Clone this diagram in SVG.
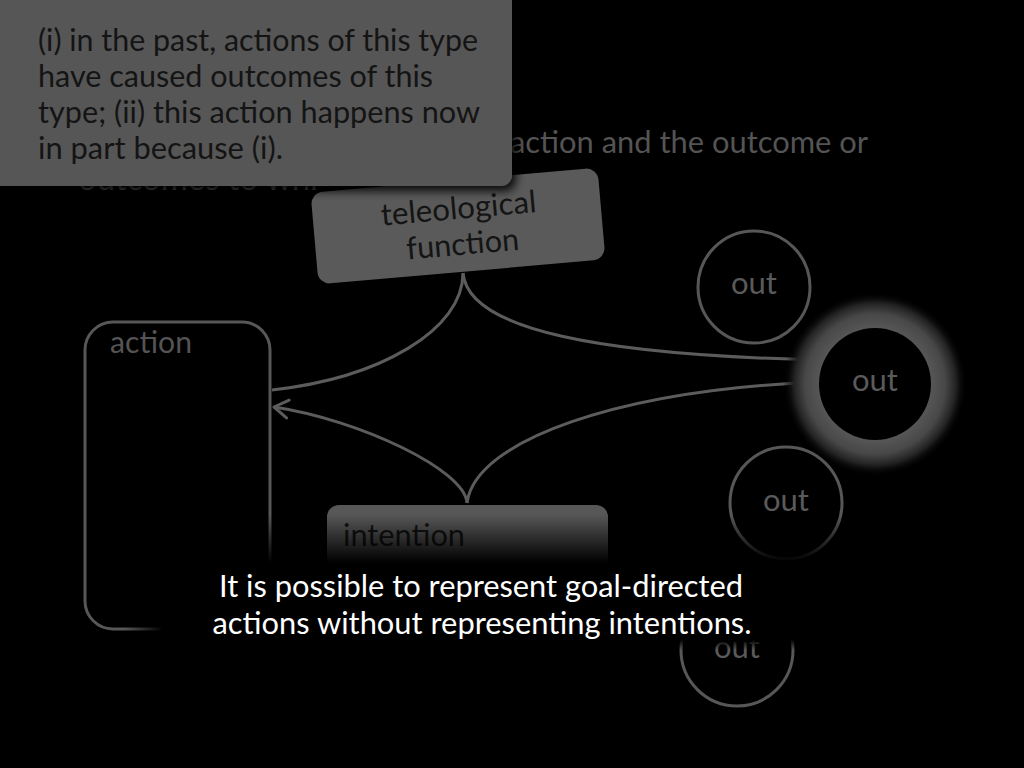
<svg xmlns="http://www.w3.org/2000/svg" width="1024" height="768" viewBox="0 0 1024 768">
  <defs>
    <style>
      text { font-family: Lato, "Open Sans", "Liberation Sans", sans-serif; }
      .dim { fill: #545454; font-size: 31px; }
      .dark { fill: #141414; font-size: 31px; }
      .cap { fill: #ffffff; font-size: 30px; text-anchor: middle; }
      .outl { fill: #5a5a5a; font-size: 31px; text-anchor: middle; }
      .ring { fill: none; stroke: #575757; stroke-width: 3; }
      .conn { fill: none; stroke: #5c5c5c; stroke-width: 3; }
    </style>
    <filter id="shadow" x="-10%" y="-10%" width="130%" height="140%">
      <feDropShadow dx="4" dy="5" stdDeviation="5" flood-color="#000" flood-opacity="0.9"/>
    </filter>
    <radialGradient id="glow" cx="875" cy="384" r="92" gradientUnits="userSpaceOnUse">
      <stop offset="0" stop-color="#555"/>
      <stop offset="0.62" stop-color="#555"/>
      <stop offset="0.76" stop-color="#484848"/>
      <stop offset="0.88" stop-color="#222"/>
      <stop offset="1" stop-color="#000" stop-opacity="0"/>
    </radialGradient>
    <linearGradient id="vfade" x1="0" y1="515" x2="0" y2="660" gradientUnits="userSpaceOnUse">
      <stop offset="0" stop-color="#fff" stop-opacity="0"/>
      <stop offset="0.33" stop-color="#fff" stop-opacity="1"/>
      <stop offset="0.86" stop-color="#fff" stop-opacity="1"/>
      <stop offset="0.93" stop-color="#fff" stop-opacity="0"/>
    </linearGradient>
    <linearGradient id="hfade" x1="125" y1="0" x2="880" y2="0" gradientUnits="userSpaceOnUse">
      <stop offset="0" stop-color="#fff" stop-opacity="0"/>
      <stop offset="0.05" stop-color="#fff" stop-opacity="1"/>
      <stop offset="0.97" stop-color="#fff" stop-opacity="1"/>
      <stop offset="1" stop-color="#fff" stop-opacity="0"/>
    </linearGradient>
    <mask id="mv" maskUnits="userSpaceOnUse" x="0" y="0" width="1024" height="768">
      <rect x="0" y="515" width="1024" height="150" fill="url(#vfade)"/>
    </mask>
    <mask id="mh" maskUnits="userSpaceOnUse" x="0" y="0" width="1024" height="768">
      <rect x="120" y="0" width="770" height="768" fill="url(#hfade)"/>
    </mask>
    <marker id="arrow" viewBox="-17 -11 20 22" markerWidth="20" markerHeight="22" refX="0" refY="0" orient="auto" markerUnits="userSpaceOnUse">
      <path d="M-14,-9 L0,0 L-14,9" fill="none" stroke="#5c5c5c" stroke-width="3" stroke-linecap="round" stroke-linejoin="round"/>
    </marker>
  </defs>

  <rect x="0" y="0" width="1024" height="768" fill="#000"/>

  <!-- partially hidden background text -->
  <g id="bg-text">
    <text class="dim" x="510" y="153" textLength="358" lengthAdjust="spacingAndGlyphs">action and the outcome or</text>
    <text class="dim" x="78" y="190" textLength="240" lengthAdjust="spacingAndGlyphs">outcomes to whi</text>
  </g>

  <!-- connectors -->
  <g id="connectors">
    <path class="conn" d="M463,273 C463,330 380,378 272,390"/>
    <path class="conn" d="M463,273 C468,330 600,355 820,360"/>
    <path class="conn" d="M467,503 C465,470 360,420 274,407" marker-end="url(#arrow)"/>
    <path class="conn" d="M467,503 C475,440 620,390 818,382" marker-end="url(#arrow)"/>
  </g>

  <g id="action">
    <rect class="ring" x="85" y="322" width="185" height="307" rx="28"/>
    <text class="dim" x="110" y="353" textLength="82" lengthAdjust="spacingAndGlyphs">action</text>
  </g>

  <g id="intention">
    <rect x="327" y="505" width="281" height="80" rx="12" fill="#575757"/>
    <text class="dark" x="343" y="546" textLength="122" lengthAdjust="spacingAndGlyphs">intention</text>
  </g>

  <g id="out1">
    <circle class="ring" cx="754" cy="287" r="56"/>
    <text class="outl" x="754" y="294">out</text>
  </g>

  <g id="out2">
    <circle cx="875" cy="384" r="92" fill="url(#glow)"/>
    <circle cx="875" cy="384" r="56" fill="#000"/>
    <text class="outl" x="875" y="391">out</text>
  </g>

  <g id="out3">
    <circle class="ring" cx="786" cy="503" r="56"/>
    <text class="outl" x="786" y="511">out</text>
  </g>

  <g id="out4">
    <circle class="ring" cx="737" cy="650" r="56"/>
    <text class="outl" x="737" y="658">out</text>
  </g>

  <g id="teleological-function" transform="translate(458,226) rotate(-5)">
    <rect x="-144" y="-46" width="288" height="92" rx="12" fill="#5a5a5a"/>
    <text class="dark" x="2" y="-7" text-anchor="middle" textLength="156" lengthAdjust="spacingAndGlyphs">teleological</text>
    <text class="dark" x="3" y="29" text-anchor="middle" textLength="113" lengthAdjust="spacingAndGlyphs">function</text>
  </g>

  <g id="definition-box">
    <rect x="-12" y="-12" width="524" height="198" rx="11" fill="#575757" filter="url(#shadow)"/>
    <text class="dark" x="38" y="51" textLength="440" lengthAdjust="spacingAndGlyphs">(i) in the past, actions of this type</text>
    <text class="dark" x="38" y="87" textLength="395" lengthAdjust="spacingAndGlyphs">have caused outcomes of this</text>
    <text class="dark" x="38" y="123" textLength="442" lengthAdjust="spacingAndGlyphs">type; (ii) this action happens now</text>
    <text class="dark" x="38" y="159" textLength="245" lengthAdjust="spacingAndGlyphs">in part because (i).</text>
  </g>

  <!-- caption band -->
  <g mask="url(#mh)">
    <rect x="100" y="515" width="800" height="150" fill="#000" mask="url(#mv)"/>
  </g>
  <g id="caption">
    <text class="cap" x="481" y="597" textLength="524" lengthAdjust="spacingAndGlyphs">It is possible to represent goal-directed</text>
    <text class="cap" x="482" y="634" textLength="539" lengthAdjust="spacingAndGlyphs">actions without representing intentions.</text>
  </g>
</svg>
